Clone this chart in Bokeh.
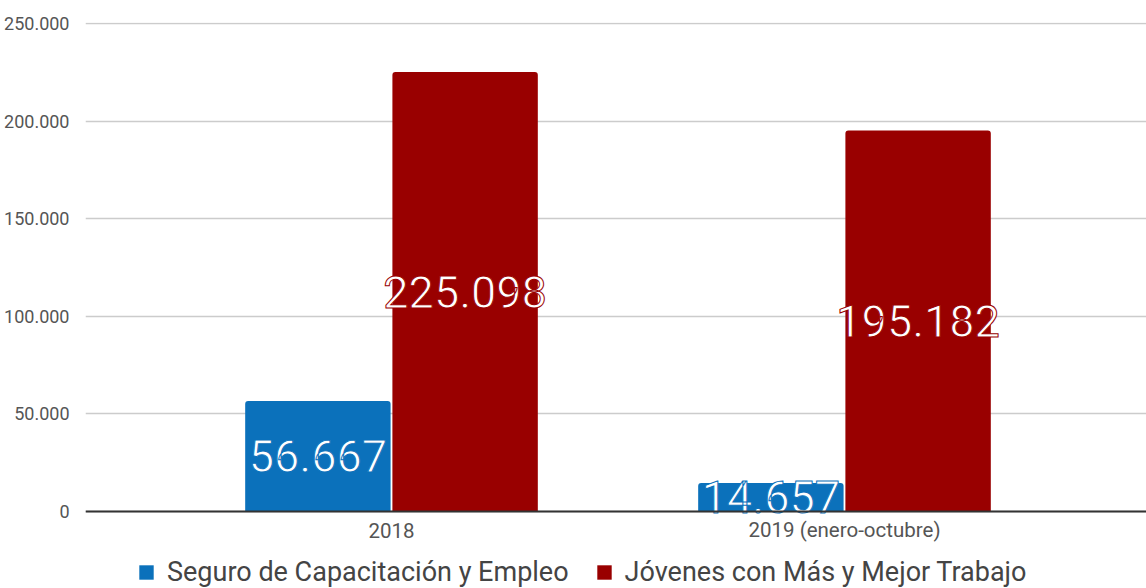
from bokeh.plotting import figure
from bokeh.models import (ColumnDataSource, Range1d, FixedTicker, Legend, LegendItem, Span)
from bokeh.embed import file_html
from bokeh.resources import INLINE
from bokeh.core.properties import value

categories = ["2018", "2019 (enero-octubre)"]
series_names = ["Seguro de Capacitación y Empleo", "Jóvenes con Más y Mejor Trabajo"]
seguro = [56667, 14657]
jovenes = [225098, 195182]
colors = ["#0b71bb", "#990000"]
y_ticks = [0, 50000, 100000, 150000, 200000, 250000]
y_tick_labels = ["0", "50.000", "100.000", "150.000", "200.000", "250.000"]

def fmt(v):
    return f"{v:,}".replace(",", ".")

FONT = "Roboto"

p = figure(width=1146, height=588, output_backend="svg", toolbar_location=None,
           x_range=Range1d(-0.6755, 1.6667), y_range=Range1d(-39447, 250512),
           x_axis_location=None,
           min_border_left=85, min_border_top=22, min_border_right=0,
           min_border_bottom=0)
p.outline_line_color = None
p.background_fill_color = "white"
p.border_fill_color = "white"

xs = list(range(len(categories)))
bw = 0.321
off = 0.1625
renderers = []
for vals, col, sign in [(seguro, colors[0], -1), (jovenes, colors[1], 1)]:
    src = ColumnDataSource(dict(
        x=[x + sign * off for x in xs],
        top=vals,
        mid=[v / 2 for v in vals],
        lab=[fmt(v) for v in vals],
    ))
    r = p.vbar(x="x", top="top", width=bw, source=src, fill_color=col,
               line_color=None, border_radius=[3, 3, 0, 0])
    renderers.append(r)
    p.text(x="x", y="mid", text="lab", source=src, text_color="white",
           text_font=value(FONT), text_font_size="45px", text_align="center",
           text_baseline="middle", text_outline_color=col)

# y axis
p.yaxis.ticker = FixedTicker(ticks=y_ticks)
p.yaxis.major_label_overrides = {t: l for t, l in zip(y_ticks, y_tick_labels)}
p.yaxis.axis_line_color = None
p.yaxis.major_tick_line_color = None
p.yaxis.minor_tick_line_color = None
p.yaxis.major_label_text_font = FONT
p.yaxis.major_label_text_font_size = "18px"
p.yaxis.major_label_text_color = "#555555"
p.yaxis.major_label_standoff = 10

p.xgrid.grid_line_color = None
p.ygrid.ticker = FixedTicker(ticks=y_ticks)
p.ygrid.grid_line_color = "#cccccc"
p.ygrid.grid_line_width = 1.5

# baseline (x axis line) and category labels
p.add_layout(Span(location=0, dimension="width", line_color="#333333", line_width=2))
cat_src = ColumnDataSource(dict(x=xs, y=[0] * len(xs), t=categories))
p.text(x="x", y="y", text="t", source=cat_src, y_offset=19, text_align="center",
       text_baseline="middle", text_font=value(FONT), text_font_size="20.5px",
       text_color="#555555")

legend = Legend(items=[LegendItem(label=n, renderers=[r]) for n, r in zip(series_names, renderers)],
                orientation="horizontal", location=(52, 0),
                label_text_font=FONT, label_text_font_size="27px",
                label_text_color="#444444", glyph_width=18, glyph_height=18,
                spacing=26, padding=0, margin=0, border_line_color=None,
                background_fill_alpha=0, label_standoff=12, label_height=24)
p.add_layout(legend, "center")

open("out.html", "w").write(file_html(p, INLINE))
